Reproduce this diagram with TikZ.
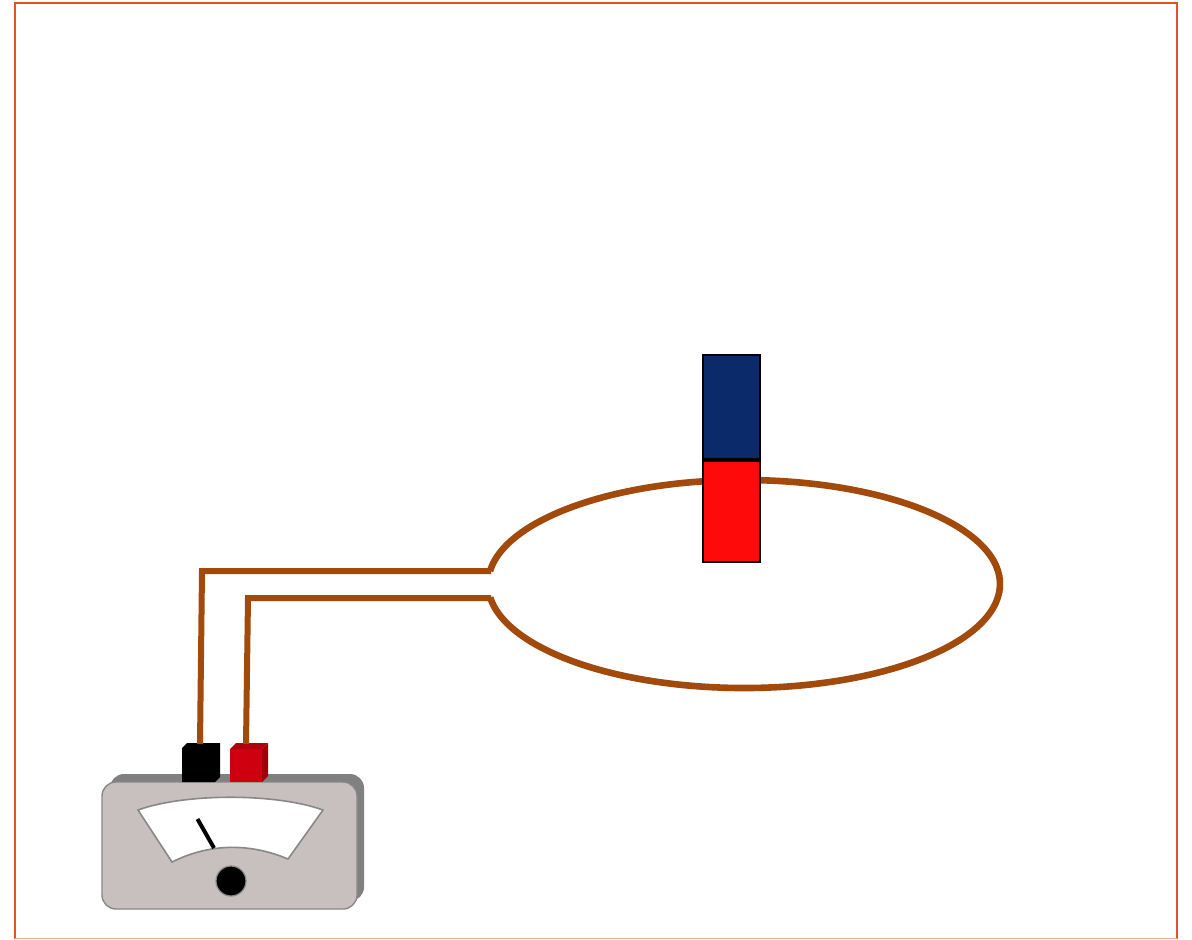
\documentclass[tikz,border=0pt]{standalone}
\begin{document}
\definecolor{wire}{RGB}{162,74,12}
\definecolor{framec}{RGB}{222,84,40}
\definecolor{northc}{RGB}{10,42,106}
\definecolor{southc}{RGB}{255,10,10}
\definecolor{casefront}{RGB}{200,192,190}
\definecolor{caseback}{RGB}{128,128,128}
\definecolor{rimc}{RGB}{136,136,136}
\definecolor{redfront}{RGB}{206,0,16}
\definecolor{redtop}{RGB}{176,0,14}
\definecolor{redside}{RGB}{160,0,10}
\begin{tikzpicture}[x=0.5pt,y=-0.5pt,
  wirestyle/.style={draw=wire,line width=3pt,line join=miter},
  polestyle/.style={draw=black,line width=1.2pt},
  rim/.style={draw=rimc,line width=0.7pt}]
\useasboundingbox (0,0) rectangle (1192,939);
% outer frame
\draw[framec,line width=1.3pt] (15,939) -- (15,3) -- (1177,3) -- (1177,939);
\draw[framec!50,line width=0.8pt] (15,938.5) -- (1177,938.5);

% loop of wire, open where the leads join it
\coordinate (loopc) at (744,584);
\draw[wirestyle,line width=3.3pt] (490,571) arc[start angle=187.18,end angle=532.54,x radius=256,y radius=104];

% bar magnet
\node[polestyle,fill=northc,minimum width=28.5pt,minimum height=52pt,inner sep=0pt,anchor=south west] (north) at (702,460) {};
\node[polestyle,fill=southc,minimum width=28.5pt,minimum height=50.5pt,inner sep=0pt,anchor=north west] (south) at (702,460) {};

% meter case
\fill[caseback,rounded corners=7pt] (110,774) rectangle (364,901);
\draw[rim,fill=casefront,rounded corners=7pt] (102,782) rectangle (357,909);
% dial face
\draw[rim,fill=white,line width=0.8pt] (138,810) .. controls (185,793) and (276,793) .. (323,810)
  -- (288,859) .. controls (250,843) and (210,843) .. (172,862) -- cycle;
% needle
\coordinate (ntip) at (197.5,819);
\coordinate (npiv) at (214,848);
\draw[black,line width=2pt] (ntip) -- (npiv);
% knob
\node[circle,fill=black,draw=rimc,line width=0.6pt,minimum size=15pt,inner sep=0pt] (knob) at (231,881) {};

% black terminal
\fill[black] (182,748) -- (187,743) -- (220,743) -- (220,777) -- (215,782) -- (182,782) -- cycle;
\coordinate (tblack) at (200,744);
% red terminal
\fill[redtop] (230,749) -- (236,743) -- (268,743) -- (262,749) -- cycle;
\fill[redside] (262,749) -- (268,743) -- (268,776) -- (262,782) -- cycle;
\fill[redfront] (230,749) rectangle (262,782);
\coordinate (tred) at (246,744);

% leads from the terminals to the loop
\coordinate (jtop) at (491,571);
\coordinate (jbot) at (491,598);
\draw[wirestyle] (tblack) -- (202,571) -- (jtop);
\draw[wirestyle] (tred) -- (248,598) -- (jbot);
\end{tikzpicture}
\end{document}
